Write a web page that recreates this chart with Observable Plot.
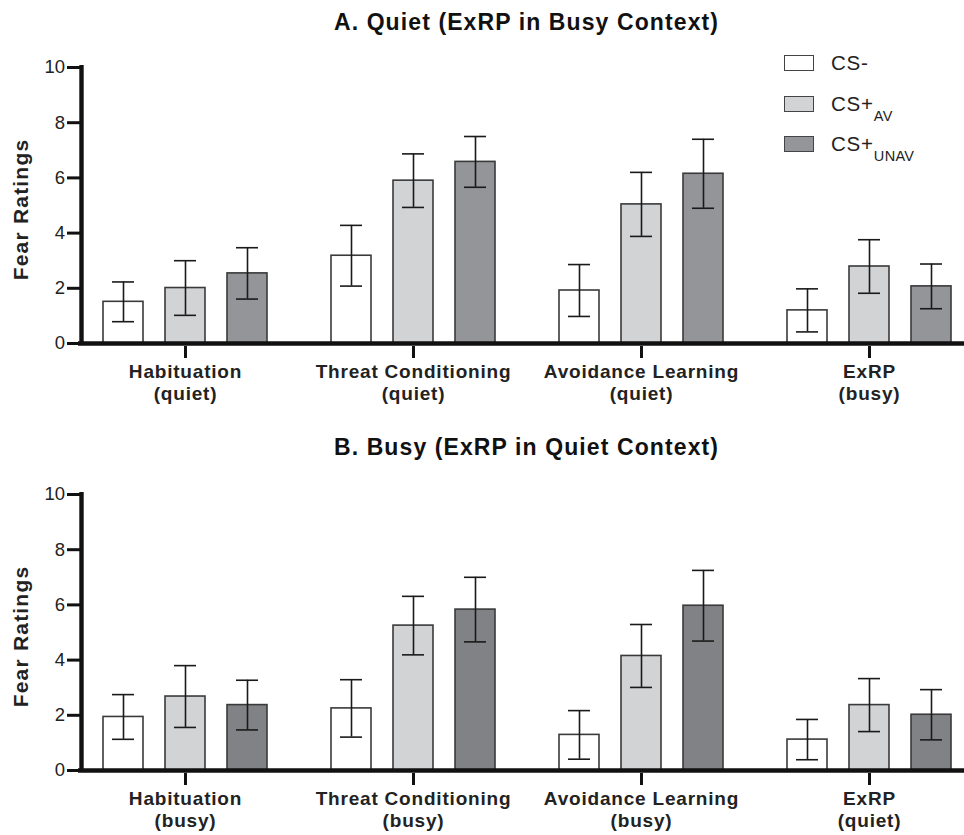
<!DOCTYPE html>
<html>
<head>
<meta charset="utf-8">
<script src="https://cdn.jsdelivr.net/npm/d3@7"></script>
<script src="https://cdn.jsdelivr.net/npm/@observablehq/plot@0.6"></script>
<style>
  html, body { margin: 0; padding: 0; background: #fff; overflow: hidden; }
  body { width: 964px; height: 835px; position: relative; font-family: "Liberation Sans", Arial, sans-serif; }
  .title { position: absolute; left: 80px; width: 893px; text-align: center; font-weight: bold; font-size: 23px; letter-spacing: 1.1px; color: #111; line-height: 28px; }
  .panel { position: absolute; left: 0; }
  .panel svg g[font-size="19"] text { letter-spacing: 0.8px; }
  .panel svg g[font-size="21"] text { letter-spacing: 1.2px; }
  .legend { position: absolute; left: 784px; top: 55px; font-size: 20.5px; letter-spacing: 0.8px; color: #222; }
  .legend .row { position: absolute; left: 0; white-space: nowrap; }
  .legend .sw { position: absolute; left: 0; width: 30px; height: 16px; box-sizing: border-box; border: 1.5px solid #444; }
  .legend .lab { position: absolute; left: 47px; top: -5px; line-height: 26px; }
  .legend sub { font-size: 14.5px; vertical-align: -10px; letter-spacing: 0.3px; }
</style>
</head>
<body>
<div class="title" style="top:8px">A. Quiet (ExRP in Busy Context)</div>
<div class="panel" id="pa" style="top:39px"></div>
<div class="title" style="top:433px">B. Busy (ExRP in Quiet Context)</div>
<div class="panel" id="pb" style="top:466px"></div>
<div class="legend" id="legend"></div>
<script>
// ---- data ----
const conditions = ["CS-", "CS+AV", "CS+UNAV"];
const stagesQuiet = ["Habituation\n(quiet)", "Threat Conditioning\n(quiet)", "Avoidance Learning\n(quiet)", "ExRP\n(busy)"];
const stagesBusy = ["Habituation\n(busy)", "Threat Conditioning\n(busy)", "Avoidance Learning\n(busy)", "ExRP\n(quiet)"];

// Panel A: Quiet (ExRP in busy context)
const quietMeanCSminus = [1.51, 3.18, 1.92, 1.20];
const quietMeanCSav    = [2.01, 5.90, 5.04, 2.79];
const quietMeanCSunav  = [2.54, 6.58, 6.15, 2.07];
const quietSemCSminus  = [0.72, 1.10, 0.94, 0.78];
const quietSemCSav     = [0.99, 0.97, 1.16, 0.97];
const quietSemCSunav   = [0.93, 0.92, 1.25, 0.81];

// Panel B: Busy (ExRP in quiet context)
const busyMeanCSminus = [1.94, 2.25, 1.29, 1.12];
const busyMeanCSav    = [2.68, 5.25, 4.15, 2.37];
const busyMeanCSunav  = [2.37, 5.83, 5.97, 2.02];
const busySemCSminus  = [0.81, 1.04, 0.88, 0.73];
const busySemCSav     = [1.12, 1.06, 1.14, 0.96];
const busySemCSunav   = [0.90, 1.17, 1.28, 0.91];

const yTicks = [0, 2, 4, 6, 8, 10];
const yLabel = "Fear Ratings";

// ---- styles ----
const fillA = {"CS-": "#ffffff", "CS+AV": "#d1d3d4", "CS+UNAV": "#939598"};
const fillB = {"CS-": "#ffffff", "CS+AV": "#d1d3d4", "CS+UNAV": "#808285"};
const offsets = {"CS-": -62, "CS+AV": 0, "CS+UNAV": 62};

function rows(stages, means, sems) {
  const out = [];
  conditions.forEach((c, ci) => {
    stages.forEach((s, si) => {
      out.push({stage: s, cond: c, mean: means[ci][si], lo: means[ci][si] - sems[ci][si], hi: means[ci][si] + sems[ci][si]});
    });
  });
  return out;
}

const W = 964, ML = 80, MR = -9, MT = 28, MB = 68, PH = 276;
const FW = W - ML - MR;

function panel(stages, data, fills) {
  const marks = [];
  for (const c of conditions) {
    const d = data.filter(r => r.cond === c);
    marks.push(Plot.barY(d, {x: "stage", y: "mean", fill: fills[c], stroke: "#3a3a3a", strokeWidth: 1.6, insetLeft: 84, insetRight: 84, dx: offsets[c]}));
  }
  for (const c of conditions) {
    const d = data.filter(r => r.cond === c);
    marks.push(Plot.ruleX(d, {x: "stage", y1: "lo", y2: "hi", stroke: "#1a1a1a", strokeWidth: 1.6, dx: offsets[c]}));
    marks.push(Plot.tickY(d, {x: "stage", y: "hi", stroke: "#1a1a1a", strokeWidth: 1.6, insetLeft: 93, insetRight: 93, dx: offsets[c]}));
    marks.push(Plot.tickY(d, {x: "stage", y: "lo", stroke: "#1a1a1a", strokeWidth: 1.6, insetLeft: 93, insetRight: 93, dx: offsets[c]}));
  }
  // baseline (x axis line)
  marks.push(Plot.ruleY([0], {stroke: "#111", strokeWidth: 4.6, insetLeft: -2}));
  // y axis line
  marks.push(Plot.ruleX([0], {x: null, dx: -FW / 2 + 1, stroke: "#111", strokeWidth: 4.4, insetTop: -2, insetBottom: -2}));
  // y ticks
  marks.push(Plot.ruleY(yTicks, {y: d => d, stroke: "#111", strokeWidth: 3, insetLeft: -13, insetRight: FW}));
  marks.push(Plot.text(yTicks, {y: d => d, text: d => String(d), frameAnchor: "left", dx: -15.5, textAnchor: "end", fontSize: 18.5, fill: "#222"}));
  // y label
  marks.push(Plot.text([yLabel], {text: d => d, frameAnchor: "left", dx: -59, dy: 4, rotate: -90, textAnchor: "middle", fontSize: 21, fontWeight: "bold", fill: "#222"}));
  // x ticks
  marks.push(Plot.ruleX(stages, {x: d => d, stroke: "#111", strokeWidth: 3, insetTop: PH + 3, insetBottom: -15}));
  // x labels
  marks.push(Plot.text(stages, {x: d => d, text: d => d, frameAnchor: "bottom", lineAnchor: "middle", dy: 38, fontSize: 19, fontWeight: "bold", lineHeight: 1.16, fill: "#222"}));

  return Plot.plot({
    width: W,
    height: MT + PH + MB,
    marginLeft: ML, marginRight: MR, marginTop: MT, marginBottom: MB,
    style: {fontFamily: "'Liberation Sans', Arial, sans-serif", background: "transparent", overflow: "visible"},
    x: {domain: stages, paddingInner: 0.088, paddingOuter: 0, axis: null},
    y: {domain: [0, 10], axis: null},
    marks
  });
}

const dataA = rows(stagesQuiet, [quietMeanCSminus, quietMeanCSav, quietMeanCSunav], [quietSemCSminus, quietSemCSav, quietSemCSunav]);
const dataB = rows(stagesBusy, [busyMeanCSminus, busyMeanCSav, busyMeanCSunav], [busySemCSminus, busySemCSav, busySemCSunav]);
document.getElementById("pa").appendChild(panel(stagesQuiet, dataA, fillA));
document.getElementById("pb").appendChild(panel(stagesBusy, dataB, fillB));

// legend
const legendItems = [
  {fill: fillA["CS-"], main: "CS-", sub: ""},
  {fill: fillA["CS+AV"], main: "CS+", sub: "AV"},
  {fill: fillA["CS+UNAV"], main: "CS+", sub: "UNAV"}
];
const lg = document.getElementById("legend");
legendItems.forEach((it, i) => {
  const row = document.createElement("div");
  row.className = "row";
  row.style.top = (i * 40.5) + "px";
  const sw = document.createElement("div");
  sw.className = "sw";
  sw.style.background = it.fill;
  const lab = document.createElement("div");
  lab.className = "lab";
  lab.textContent = it.main;
  if (it.sub) { const s = document.createElement("sub"); s.textContent = it.sub; lab.appendChild(s); }
  row.appendChild(sw); row.appendChild(lab);
  lg.appendChild(row);
});
</script>
</body>
</html>
